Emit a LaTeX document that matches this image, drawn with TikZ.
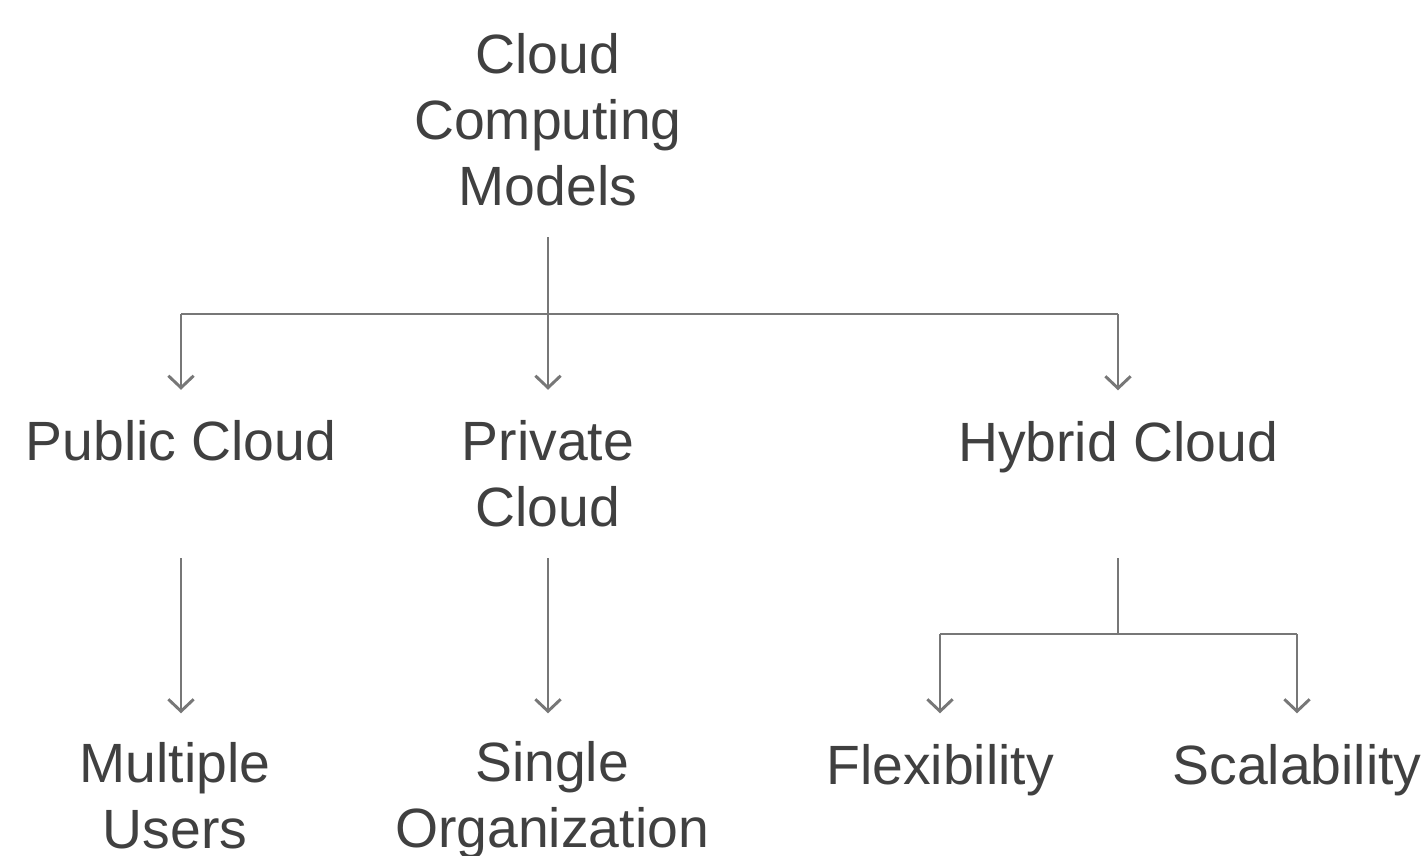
\documentclass[tikz,border=0pt]{standalone}
\usepackage{fontspec}
\setmainfont{Liberation Sans}
\usetikzlibrary{arrows.meta}
\definecolor{txt}{HTML}{404040}
\definecolor{ln}{HTML}{777777}
\begin{document}
\begin{tikzpicture}[x=0.75pt,y=-0.75pt,
  lbl/.style={align=center,inner xsep=0pt,inner ysep=23pt,text=txt,
    font=\fontsize{41.5}{49.5}\selectfont},
  conn/.style={draw=ln,line width=2.2pt},
  arr/.style={conn,-{Straight Barb[length=9pt,width=19pt,line width=2.2pt]}}]
\useasboundingbox[fill=white] (0,0) rectangle (1424,856);
\node[lbl] (root) at (548,120) {Cloud\\Computing\\Models};
\node[lbl] (pub) at (181,441) {Public Cloud};
\node[lbl] (priv) at (548,474) {Private\\Cloud};
\node[lbl] (hyb) at (1118,447) {Hybrid Cloud};
\node[lbl] (multi) at (175,796) {Multiple\\Users};
\node[lbl] (single) at (552,800) {Single\\Organization};
\node[lbl] (flex) at (940,770) {Flexibility};
\node[lbl] (scal) at (1297,770) {Scalability};
\coordinate (j1) at (548,314);
\coordinate (j2) at (1118,634);
% root to level 1
\draw[arr] (root.south) -- (root.south |- pub.north);
\draw[conn] (j1 -| pub) -- (j1 -| hyb);
\draw[arr] (j1 -| pub) -- (pub.north);
\draw[arr] (j1 -| hyb) -- (hyb.north);
% level 1 to level 2
\draw[arr] (priv.south -| pub) -- (flex.north -| pub);
\draw[arr] (priv.south) -- (flex.north -| priv);
\draw[conn] (priv.south -| hyb) -- (j2);
\draw[conn] (j2 -| flex) -- (j2 -| scal);
\draw[arr] (j2 -| flex) -- (flex.north);
\draw[arr] (j2 -| scal) -- (scal.north);
\end{tikzpicture}
\end{document}
